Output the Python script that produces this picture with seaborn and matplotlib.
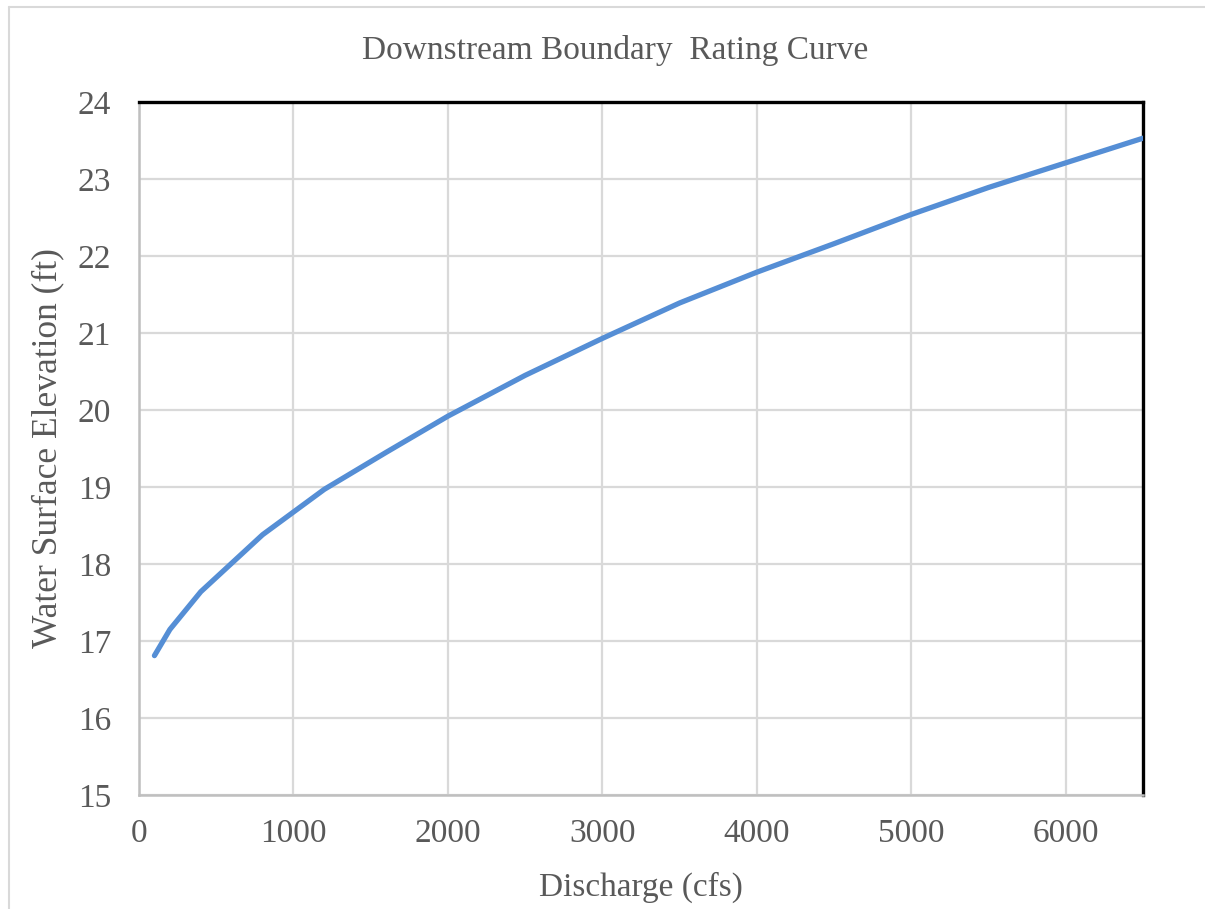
import matplotlib
matplotlib.use("Agg")
import matplotlib.pyplot as plt
from matplotlib.lines import Line2D
import seaborn as sns
import pandas as pd

# Rating curve: discharge (cfs) vs water surface elevation (ft)
discharge = [100, 200, 400, 800, 1200, 1600, 2000, 2500, 3000, 3500,
             4000, 4500, 5000, 5500, 6000, 6500]
elevation = [16.81, 17.15, 17.64, 18.38, 18.97, 19.45, 19.92, 20.45, 20.93,
             21.39, 21.79, 22.16, 22.54, 22.89, 23.21, 23.53]
x_ticks = [0, 1000, 2000, 3000, 4000, 5000, 6000]
y_ticks = [15, 16, 17, 18, 19, 20, 21, 22, 23, 24]

df = pd.DataFrame({"Discharge": discharge, "Elevation": elevation})

sns.set_style("white")
plt.rcParams["font.family"] = ["Liberation Serif", "DejaVu Serif"]
text_color = "#595959"

fig = plt.figure(figsize=(12.05, 9.09), dpi=100)
ax = fig.add_axes([139 / 1205, 1 - 795 / 909, (1143 - 139) / 1205, (795 - 102) / 909])

sns.lineplot(data=df, x="Discharge", y="Elevation", ax=ax, color="#558ed5",
             linewidth=3.8, solid_capstyle="round", solid_joinstyle="round",
             zorder=3)

ax.set_xlim(0, 6500)
ax.set_ylim(15, 24)
ax.set_xticks(x_ticks)
ax.set_yticks(y_ticks)
ax.grid(True, color="#d9d9d9", linewidth=1.6, zorder=0)
ax.set_axisbelow(True)

ax.spines["top"].set_color("black")
ax.spines["top"].set_linewidth(2.4)
ax.spines["right"].set_color("black")
ax.spines["right"].set_linewidth(2.4)
ax.spines["left"].set_color("#bfbfbf")
ax.spines["left"].set_linewidth(1.8)
ax.spines["bottom"].set_color("#bfbfbf")
ax.spines["bottom"].set_linewidth(1.8)

ax.tick_params(axis="both", length=0, colors=text_color)
ax.tick_params(axis="y", labelsize=24, pad=20)
ax.tick_params(axis="x", labelsize=24, pad=17)

ax.set_xlabel("Discharge (cfs)", fontsize=24, color=text_color, labelpad=16)
ax.set_ylabel("Water Surface Elevation (ft)", fontsize=25.5, color=text_color,
              labelpad=10)
fig.text(615 / 1205, 1 - 51 / 909, "Downstream Boundary  Rating Curve",
         ha="center", va="center", fontsize=24, color=text_color)

# thin frame lines along the top and left edges of the chart area
fig.add_artist(Line2D([9 / 1205, 1], [1 - 7 / 909, 1 - 7 / 909],
                      transform=fig.transFigure, color="#d9d9d9", linewidth=1.5))
fig.add_artist(Line2D([9 / 1205, 9 / 1205], [0, 1 - 7 / 909],
                      transform=fig.transFigure, color="#d9d9d9", linewidth=1.5))

fig.savefig("out.png", dpi=100)
